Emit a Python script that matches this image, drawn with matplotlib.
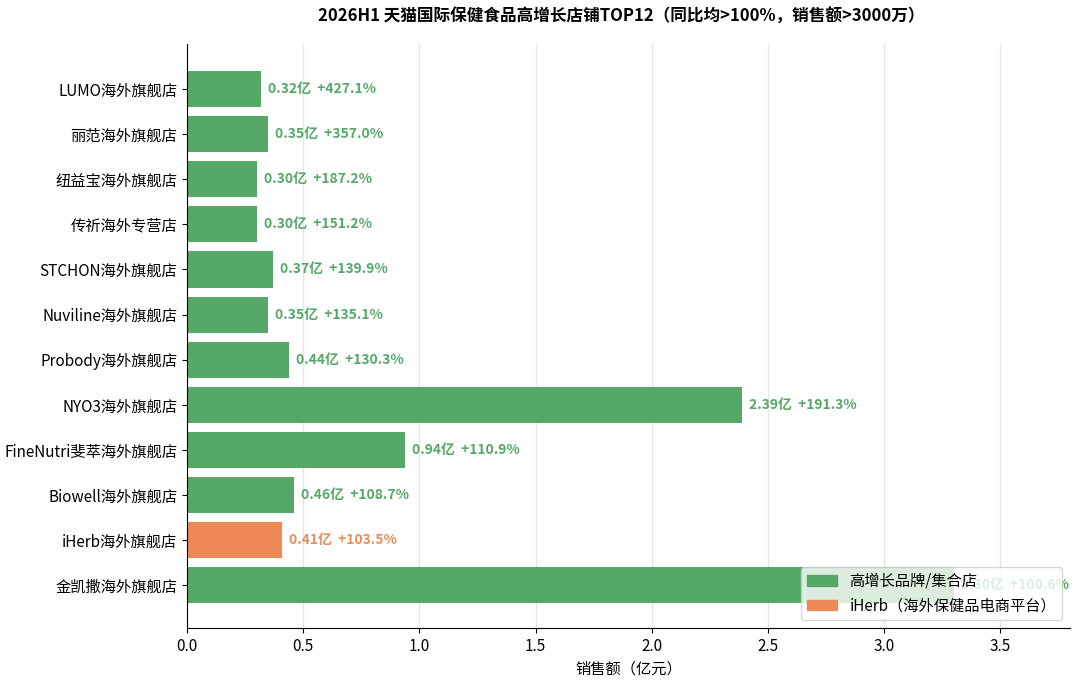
import matplotlib
matplotlib.use("Agg")
import matplotlib.pyplot as plt
from matplotlib.patches import Patch

plt.rcParams['font.family'] = ['Noto Sans CJK SC', 'DejaVu Sans']

stores = ["LUMO海外旗舰店", "丽范海外旗舰店", "纽益宝海外旗舰店", "传祈海外专营店", "STCHON海外旗舰店",
          "Nuviline海外旗舰店", "Probody海外旗舰店", "NYO3海外旗舰店", "FineNutri斐萃海外旗舰店",
          "Biowell海外旗舰店", "iHerb海外旗舰店", "金凯撒海外旗舰店"]
sales = [0.32, 0.35, 0.30, 0.30, 0.37, 0.35, 0.44, 2.39, 0.94, 0.46, 0.41, 3.30]
growth = [427.1, 357.0, 187.2, 151.2, 139.9, 135.1, 130.3, 191.3, 110.9, 108.7, 103.5, 100.6]
types = ["brand"] * 10 + ["iherb", "brand"]

GREEN, ORANGE = "#55A868", "#EE8A58"
colors = [ORANGE if t == "iherb" else GREEN for t in types]

fig = plt.figure(figsize=(10.8, 6.86), dpi=100)
ax = fig.add_axes([187/1080, 1-628/686, (1070-187)/1080, (628-44)/686])
y = list(range(len(stores)))
ax.barh(y, sales, color=colors, height=0.8, zorder=2)
for yi, s, g, c in zip(y, sales, growth, colors):
    ax.text(s + 0.03, yi, f"{s:.2f}亿  +{g:.1f}%", va="center", ha="left",
            color=c, fontsize=10, fontweight="bold", zorder=1)
ax.set_yticks(y)
ax.set_yticklabels(stores, fontsize=11)
ax.set_ylim(11.95, -1.0)
ax.set_xlim(0, 3.8)
ax.tick_params(axis='x', labelsize=11)
ax.grid(axis='x', color='#e6e6e6', linewidth=1, zorder=0)
ax.set_axisbelow(True)
for sp in ["top", "right"]:
    ax.spines[sp].set_visible(False)
ax.set_xlabel("销售额（亿元）", fontsize=11)
fig.text(0.575, 0.975, "2026H1 天猫国际保健食品高增长店铺TOP12（同比均>100%，销售额>3000万）",
         ha="center", va="center", fontsize=12, fontweight="bold")
handles = [Patch(color=GREEN, label="高增长品牌/集合店"), Patch(color=ORANGE, label="iHerb（海外保健品电商平台）")]
ax.legend(handles=handles, loc="lower right", fontsize=11, framealpha=0.8)
fig.savefig("out.png", dpi=100)
